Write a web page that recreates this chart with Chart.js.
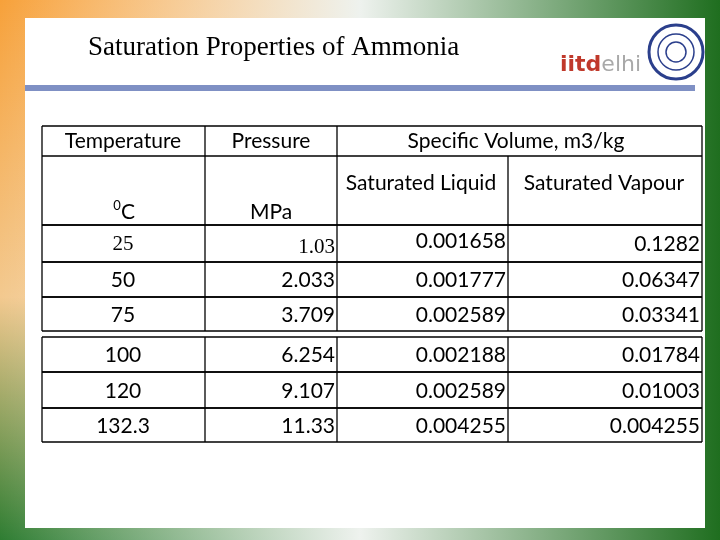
<!DOCTYPE html>
<html>
<head>
<meta charset="utf-8">
<script src="https://cdn.jsdelivr.net/npm/chart.js@4"></script>
<style>
html, body { margin: 0; padding: 0; background: #fff; }
#wrap { width: 720px; height: 540px; }
</style>
</head>
<body>
<div id="wrap"><canvas id="tbl"></canvas></div>
<script>
var title = "Saturation Properties of Ammonia";
var temps = ["25", "50", "75", "100", "120", "132.3"];
var pressures = ["1.03", "2.033", "3.709", "6.254", "9.107", "11.33"];
var vLiquid = ["0.001658", "0.001777", "0.002589", "0.002188", "0.002589", "0.004255"];
var vVapour = ["0.1282", "0.06347", "0.03341", "0.01784", "0.01003", "0.004255"];

var colX = [42, 205, 337, 508, 702];
var rowTop = [225, 262, 297, 337, 372, 408];
var rowBot = [262, 297, 331, 372, 408, 442];
var sans = "Lato, 'Open Sans', sans-serif";
var serif = "'Liberation Serif', serif";

function line(ctx, x1, y1, x2, y2) {
	ctx.beginPath(); ctx.moveTo(x1, y1); ctx.lineTo(x2, y2); ctx.stroke();
}

const slidePlugin = {
	id: 'slide',
	beforeDraw(chart) {
		const ctx = chart.ctx;
		ctx.save();
		let g = ctx.createLinearGradient(0, 0, 0, 540);
		g.addColorStop(0, '#f7a13a'); g.addColorStop(0.55, '#f3c98f'); g.addColorStop(1, '#2e7d32');
		ctx.fillStyle = g; ctx.fillRect(0, 0, 360, 540);
		let g2 = ctx.createLinearGradient(360, 0, 720, 0);
		g2.addColorStop(0, '#eef2ee'); g2.addColorStop(1, '#1f6e1f');
		ctx.fillStyle = g2; ctx.fillRect(360, 0, 360, 540);
		let g3 = ctx.createLinearGradient(0, 0, 360, 0);
		g3.addColorStop(0, 'rgba(255,255,255,0)'); g3.addColorStop(1, 'rgba(238,242,238,1)');
		ctx.fillStyle = g3; ctx.fillRect(0, 0, 360, 540);
		ctx.fillStyle = '#fff'; ctx.fillRect(25, 18, 680, 510);
		ctx.fillStyle = '#7f90c4'; ctx.fillRect(25, 85, 670, 6);
		ctx.restore();
	},
	afterDraw(chart) {
		const ctx = chart.ctx;
		ctx.save();
		ctx.fillStyle = '#000';
		ctx.font = "27px " + serif;
		ctx.textBaseline = 'middle';
		ctx.fillText(title, 88, 48);
		// logo
		ctx.font = "bold 22px 'DejaVu Sans', sans-serif";
		ctx.fillStyle = '#c0392b'; ctx.fillText("iitd", 560, 65);
		let w = ctx.measureText("iitd").width;
		ctx.font = "22px 'DejaVu Sans', sans-serif";
		ctx.fillStyle = '#a9a9a9'; ctx.fillText("elhi", 560 + w, 65);
		ctx.strokeStyle = '#2b3f8c'; ctx.lineWidth = 3;
		ctx.beginPath(); ctx.arc(676, 52, 27, 0, Math.PI * 2); ctx.stroke();
		ctx.lineWidth = 1.5;
		ctx.beginPath(); ctx.arc(676, 52, 18, 0, Math.PI * 2); ctx.stroke();
		ctx.beginPath(); ctx.arc(676, 52, 10, 0, Math.PI * 2); ctx.stroke();

		// grid
		ctx.fillStyle = '#000';
		ctx.strokeStyle = '#000'; ctx.lineWidth = 1.3;
		line(ctx, colX[0], 126, colX[4], 126);
		line(ctx, colX[0], 156, colX[4], 156);
		[0, 1, 2, 4].forEach(i => line(ctx, colX[i], 126, colX[i], 331));
		line(ctx, colX[3], 156, colX[3], 331);
		[0, 1, 2, 3, 4].forEach(i => line(ctx, colX[i], 337, colX[i], 442));
		line(ctx, colX[0], 225, colX[4], 225);
		rowTop.forEach(v => line(ctx, colX[0], v, colX[4], v));
		rowBot.forEach(v => line(ctx, colX[0], v, colX[4], v));

		ctx.font = "21px " + sans;
		ctx.textAlign = 'center';
		ctx.fillText("Temperature", 123, 141);
		ctx.fillText("Pressure", 271, 141);
		ctx.fillText("Specific Volume, m3/kg", 516, 141);
		ctx.fillText("Saturated Liquid", 421, 183);
		ctx.fillText("Saturated Vapour", 604, 183);
		ctx.fillText("MPa", 271, 212);
		ctx.fillText("C", 128, 212);
		ctx.font = "13px " + sans;
		ctx.fillText("0", 117, 206);

		temps.forEach((t, i) => {
			const py = (rowTop[i] + rowBot[i]) / 2 + 1;
			const f = i === 0 ? serif : sans;
			ctx.font = "21px " + f;
			ctx.textAlign = 'center';
			ctx.fillText(t, 123, py);
			ctx.textAlign = 'right';
			ctx.fillText(pressures[i], colX[2] - 2, py + (i === 0 ? 3 : 0));
			ctx.font = "21px " + sans;
			ctx.fillText(vLiquid[i], colX[3] - 2, py - (i === 0 ? 3 : 0));
			ctx.fillText(vVapour[i], colX[4] - 2, py);
		});
		ctx.restore();
	}
};

new Chart(document.getElementById('tbl').getContext('2d'), {
	type: 'line',
	data: { labels: temps, datasets: [{ data: [], showLine: false }] },
	options: {
		responsive: true,
		maintainAspectRatio: false,
		animation: false,
		plugins: { legend: { display: false }, tooltip: { enabled: false } },
		scales: { x: { display: false }, y: { display: false } }
	},
	plugins: [slidePlugin]
});
</script>
</body>
</html>
